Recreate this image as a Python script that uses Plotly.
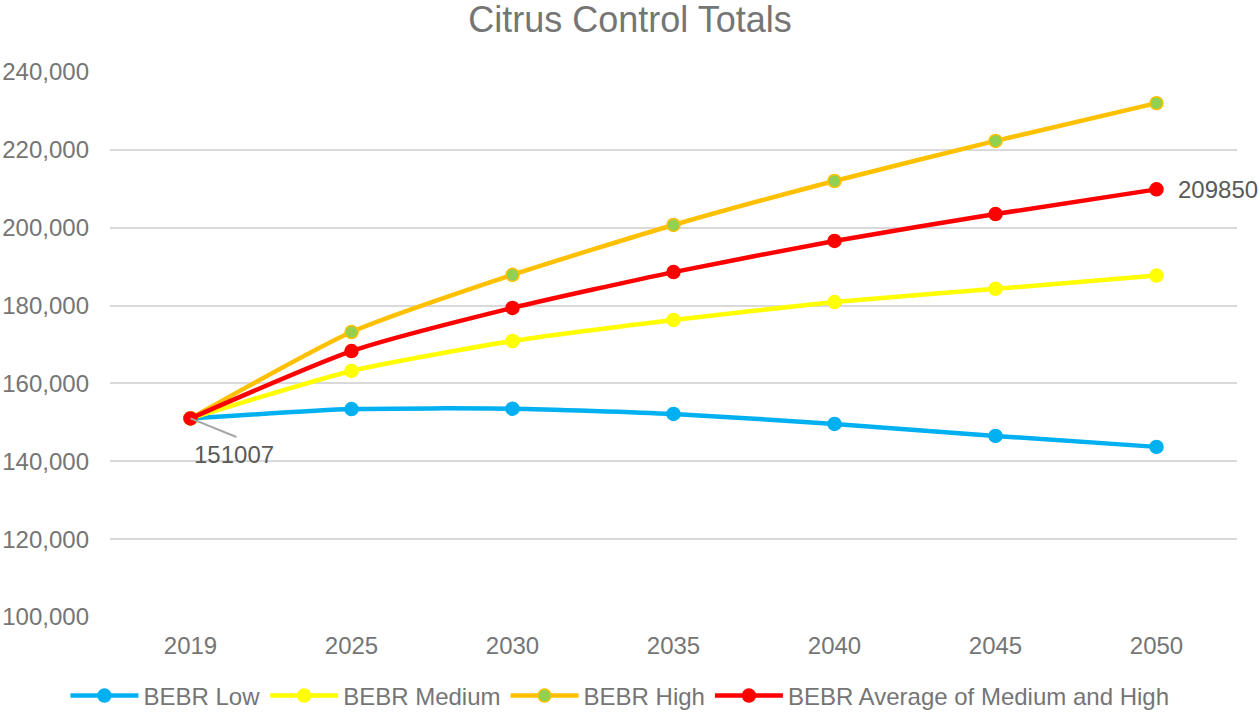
import plotly.graph_objects as go

years = ["2019", "2025", "2030", "2035", "2040", "2045", "2050"]
bebr_low = [151007, 153400, 153500, 152150, 149600, 146500, 143700]
bebr_medium = [151007, 163200, 170900, 176300, 180900, 184300, 187700]
bebr_high = [151007, 173200, 187900, 200700, 212000, 222300, 232000]
bebr_avg = [151007, 168300, 179400, 188600, 196600, 203500, 209850]
y_ticks = [100000, 120000, 140000, 160000, 180000, 200000, 220000, 240000]

series = [
    ("BEBR Low", bebr_low, "#00B0F0", "#00B0F0"),
    ("BEBR Medium", bebr_medium, "#FFFF00", "#FFFF00"),
    ("BEBR High", bebr_high, "#FFC000", "#92D050"),
    ("BEBR Average of Medium and High", bebr_avg, "#FF0000", "#FF0000"),
]

TXT = "#757575"
LBL = "#595959"

fig = go.Figure()
for name, vals, lc, mc in series:
    fig.add_trace(go.Scatter(
        x=years, y=vals, name=name, mode="lines+markers",
        line=dict(color=lc, width=4.5, shape="spline", smoothing=0.6),
        marker=dict(color=mc, size=13, line=dict(color=lc, width=1.5)),
    ))

# data labels (category index positions)
fig.add_annotation(x=0, y=bebr_avg[0], text=" ", showarrow=True,
                   arrowhead=0, arrowcolor="#A6A6A6", arrowwidth=2,
                   ax=47, ay=19, standoff=0, borderpad=0, font=dict(size=2))
fig.add_annotation(x=0, y=bebr_avg[0], text=str(bebr_avg[0]), showarrow=False,
                   xshift=43, yshift=-36, font=dict(size=24, color=LBL))
fig.add_annotation(x=len(years) - 1, y=bebr_avg[-1], text=str(bebr_avg[-1]),
                   showarrow=False, xanchor="left", xshift=19,
                   font=dict(size=24, color=LBL))

W, H = 1260, 713
fig.update_layout(
    width=W, height=H,
    paper_bgcolor="white", plot_bgcolor="white",
    font=dict(family="Liberation Sans, Arial, sans-serif", color=TXT),
    title=dict(text="Citrus Control Totals", x=0.5, xanchor="center",
               yref="container", y=1 - 19 / H, yanchor="middle",
               font=dict(size=36, color=TXT)),
    margin=dict(l=110, r=23, t=72, b=96),
    showlegend=True,
    legend=dict(orientation="h", xref="container", x=0.492, xanchor="center",
                yref="container", y=1 - 696 / H, yanchor="middle",
                font=dict(size=24, color=TXT), itemwidth=68, tracegroupgap=0),
    xaxis=dict(type="category", range=[-0.5, 6.5], showgrid=False, showline=False,
               automargin=False, ticks="", tickfont=dict(size=24, color=TXT),
               ticklabelstandoff=12),
    yaxis=dict(range=[100000, 240000], tickvals=y_ticks, tickformat=",",
               automargin=False, showgrid=True, gridcolor="#D9D9D9", gridwidth=1.5,
               zeroline=False, showline=False, ticks="",
               tickfont=dict(size=24, color=TXT), ticklabelstandoff=20),
)

fig.write_html("out.html", config={"displayModeBar": False},
               post_script="document.body.style.margin='0';")
